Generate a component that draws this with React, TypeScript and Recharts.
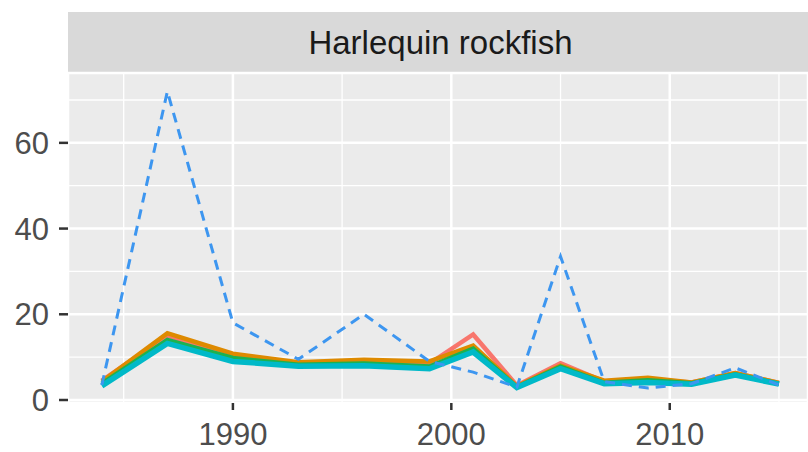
import { LineChart, Line, XAxis, YAxis, CartesianGrid } from 'recharts';

const years = [1984, 1987, 1990, 1993, 1996, 1999, 2001, 2003, 2005, 2007, 2009, 2011, 2013, 2015];
const redSeries = [4.5, 15, 10.3, 8.5, 9, 8.5, 15.3, 3.4, 8.6, 4.3, 4.8, 4.1, 6.3, 4.0];
const orangeSeries = [4.3, 15.6, 10.8, 8.8, 9.4, 9.0, 12.7, 3.2, 8.0, 4.5, 5.2, 4.1, 6.3, 4.0];
const greenSeries = [3.8, 14, 9.8, 8.2, 8.5, 7.8, 12, 3.0, 7.8, 4.0, 4.6, 3.9, 6.0, 3.8];
const tealSeries = [3.3, 13.2, 9.0, 7.9, 8.0, 7.3, 11.2, 2.9, 7.3, 3.8, 4.1, 3.7, 5.8, 3.7];
const dashedSeries = [3.5, 72, 18, 9.5, 20, 9, 6.5, 3, 33.5, 4.3, 2.8, 3.8, 7.5, 3.5];

const xTicks = [1990, 2000, 2010];
const xMinorTicks = [1985, 1995, 2005, 2015];
const yTicks = [0, 20, 40, 60];
const yMinorTicks = [10, 30, 50, 70];

const title = 'Harlequin rockfish';

const data = years.map((year, i) => ({
  year,
  red: redSeries[i],
  orange: orangeSeries[i],
  green: greenSeries[i],
  teal: tealSeries[i],
  dashed: dashedSeries[i],
}));

const xDomain = [1982.45, 2016.33];
const yDomain = [-0.7, 76.3];
const font = '"Liberation Sans", Arial, sans-serif';
const tickStyle = { fill: '#4D4D4D', fontSize: 31, fontFamily: font };

export default function App() {
  return (
    <div style={{ position: 'absolute', left: 0, top: 0, width: 808, height: 452, overflow: 'hidden', background: '#fff' }}>
      {/* facet strip */}
      <div
        style={{
          position: 'absolute',
          left: 68,
          top: 12,
          width: 745,
          height: 61,
          background: '#D9D9D9',
          color: '#1A1A1A',
          fontFamily: font,
          fontSize: 33,
          lineHeight: '61px',
          textAlign: 'center',
        }}
      >
        {title}
      </div>
      <LineChart width={808} height={452} data={data} margin={{ top: 73, right: 0, left: 0, bottom: 0 }}>
        <XAxis xAxisId="minor" dataKey="year" type="number" domain={xDomain} ticks={xMinorTicks} hide allowDataOverflow />
        <YAxis yAxisId="minor" type="number" domain={yDomain} ticks={yMinorTicks} hide allowDataOverflow />
        <CartesianGrid xAxisId="minor" yAxisId="minor" stroke="#FFFFFF" strokeWidth={1.3} fill="#EBEBEB" />
        <CartesianGrid stroke="#FFFFFF" strokeWidth={2.5} />
        <XAxis
          dataKey="year"
          type="number"
          domain={xDomain}
          ticks={xTicks}
          allowDataOverflow
          height={49}
          axisLine={false}
          tickSize={7}
          tickMargin={13}
          tickLine={{ stroke: '#333333', strokeWidth: 2.5 }}
          tick={tickStyle}
        />
        <YAxis
          type="number"
          domain={yDomain}
          ticks={yTicks}
          allowDataOverflow
          width={68}
          axisLine={false}
          tickSize={9}
          tickMargin={10}
          tickLine={{ stroke: '#333333', strokeWidth: 2.5 }}
          tick={tickStyle}
        />
        <Line dataKey="red" stroke="#F8766D" strokeWidth={4.5} dot={false} isAnimationActive={false} />
        <Line dataKey="orange" stroke="#DE8A00" strokeWidth={4.5} dot={false} isAnimationActive={false} />
        <Line dataKey="green" stroke="#1CB24F" strokeWidth={4.5} dot={false} isAnimationActive={false} />
        <Line dataKey="teal" stroke="#00B9C8" strokeWidth={5.5} dot={false} isAnimationActive={false} />
        <Line
          dataKey="dashed"
          stroke="#3D96F0"
          strokeWidth={3}
          strokeDasharray="10 7"
          dot={false}
          isAnimationActive={false}
        />
      </LineChart>
    </div>
  );
}
